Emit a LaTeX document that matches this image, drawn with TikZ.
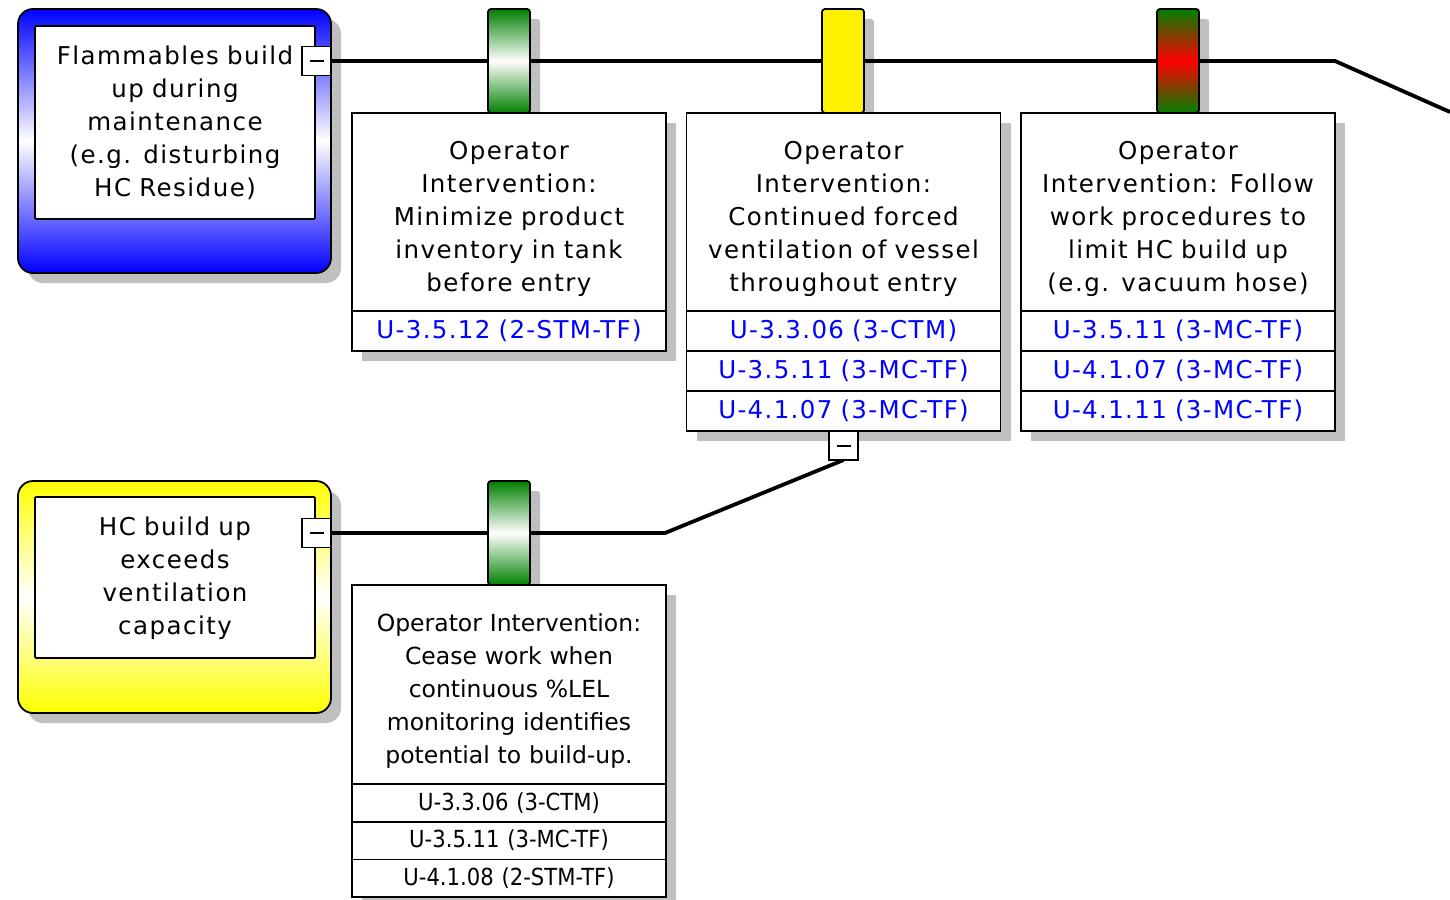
\documentclass[tikz,border=0pt]{standalone}
\usepackage{fontspec}
\setmainfont{DejaVu Sans}
\newfontfamily\widefont[LetterSpace=6]{DejaVu Sans}
\newfontfamily\rowfont[LetterSpace=5.5]{DejaVu Sans}
\newfontfamily\plainfont{DejaVu Sans}
\newfontfamily\smallrowfont[FakeStretch=0.9]{DejaVu Sans}
\usetikzlibrary{shadows,backgrounds}
\definecolor{bgreen}{RGB}{0,128,0}
\definecolor{shgray}{RGB}{192,192,192}
\begin{document}
\begin{tikzpicture}[x=1pt,y=-1pt,
  softshadow/.style={drop shadow={shadow xshift=10pt,shadow yshift=-10pt,fill=black,opacity=0.25}},
  hardshadow/.style={drop shadow={shadow xshift=10pt,shadow yshift=-10pt,fill=shgray,opacity=1}},
  threat/.style={draw,line width=1.8pt,rounded corners=15pt,minimum width=313pt,inner sep=0pt,outer sep=0pt,softshadow},
  innerbox/.style={draw,fill=white,line width=1.6pt,rounded corners=1pt,minimum width=280pt,
    inner sep=0pt,outer sep=0pt},
  boxtext/.style={text width=306pt,align=center,inner sep=0pt,font={\widefont\fontsize{24.5}{33}\selectfont}},
  lowtext/.style={boxtext,font={\plainfont\fontsize{23.5}{32.8}\selectfont}},
  minusbox/.style={draw,fill=white,minimum size=29pt,inner sep=0pt,outer sep=0pt,line width=1.6pt},
  minussign/.style={line width=2pt},
  barrier/.style={draw,line width=1.8pt,minimum width=42pt,inner sep=0pt,outer sep=0pt,rounded corners=3pt,softshadow},
  bbox/.style={draw,fill=white,line width=1.8pt,minimum width=314pt,inner sep=0pt,outer sep=0pt,hardshadow},
  bluerow/.style={bbox,minimum height=40pt,text=blue,text width=306pt,align=center,
    font={\rowfont\fontsize{24.5}{26}\selectfont}},
  blackrow/.style={bbox,minimum height=37.7pt,text width=306pt,align=center,
    font={\smallrowfont\fontsize{23.5}{25}\selectfont}},
  conn/.style={line width=3.8pt}
]
\useasboundingbox (0,0) rectangle (1450,899);

% threat 1
\node[threat,minimum height=264pt,top color=blue,bottom color=blue,middle color=white] (t1) at (174.5,141) {};
\node[innerbox,minimum height=193pt] (t1in) at (175,122.5) {};
\node[boxtext,text width=276pt] (t1t) at (175,122.5) {Flammables build\\up during\\maintenance\\(e.g. disturbing\\HC Residue)};
\node[minusbox] (m1) at (316.5,61) {};
\draw[minussign] ([xshift=-7pt]m1.center) -- ([xshift=7pt]m1.center);

% threat 2
\node[threat,minimum height=232pt,top color=yellow,bottom color=yellow,middle color=white] (t2) at (174.5,597) {};
\node[innerbox,minimum height=161pt] (t2in) at (175,577.5) {};
\node[boxtext,text width=276pt] (t2t) at (175,578) {HC build up\\exceeds\\ventilation\\capacity};
\node[minusbox] (m2) at (316.5,533) {};
\draw[minussign] ([xshift=-7pt]m2.center) -- ([xshift=7pt]m2.center);

% barriers top
\node[barrier,minimum height=104pt,top color=bgreen,bottom color=bgreen,middle color=white] (bar1) at (509,61) {};
\node[barrier,minimum height=104pt,fill=yellow] (bar2) at (843,61) {};
\node[barrier,minimum height=104pt,top color=bgreen,bottom color=bgreen,middle color=red] (bar3) at (1178,61) {};

% box 1
\node[bbox,minimum height=198pt] (b1) at (509,212) {};
\node[boxtext] (b1t) at (509,219) {Operator\\Intervention:\\Minimize product\\inventory in tank\\before entry};
\node[bluerow,anchor=north] (b1r1) at (b1.south) {U-3.5.12 (2-STM-TF)};

% box 2
\node[bbox,minimum height=198pt] (b2) at (843.5,212) {};
\node[boxtext] (b2t) at (843.5,219) {Operator\\Intervention:\\Continued forced\\ventilation of vessel\\throughout entry};
\node[bluerow,anchor=north] (b2r1) at (b2.south) {U-3.3.06 (3-CTM)};
\node[bluerow,anchor=north] (b2r2) at (b2r1.south) {U-3.5.11 (3-MC-TF)};
\node[bluerow,anchor=north] (b2r3) at (b2r2.south) {U-4.1.07 (3-MC-TF)};
\node[minusbox] (m3) at (843.5,445.5) {};
\draw[minussign] ([xshift=-7pt]m3.center) -- ([xshift=7pt]m3.center);

% box 3
\node[bbox,minimum height=198pt] (b3) at (1178,212) {};
\node[boxtext] (b3t) at (1178,219) {Operator\\Intervention: Follow\\work procedures to\\limit HC build up\\(e.g. vacuum hose)};
\node[bluerow,anchor=north] (b3r1) at (b3.south) {U-3.5.11 (3-MC-TF)};
\node[bluerow,anchor=north] (b3r2) at (b3r1.south) {U-4.1.07 (3-MC-TF)};
\node[bluerow,anchor=north] (b3r3) at (b3r2.south) {U-4.1.11 (3-MC-TF)};

% lower barrier and box
\node[barrier,minimum height=104pt,top color=bgreen,bottom color=bgreen,middle color=white] (bar4) at (509,533) {};
\node[bbox,minimum height=199pt] (b4) at (509,684.5) {};
\node[lowtext] (b4t) at (509,691) {Operator Intervention:\\Cease work when\\continuous \%LEL\\monitoring identifies\\potential to build-up.};
\node[blackrow,anchor=north] (b4r1) at (b4.south) {U-3.3.06 (3-CTM)};
\node[blackrow,anchor=north] (b4r2) at (b4r1.south) {U-3.5.11 (3-MC-TF)};
\node[blackrow,anchor=north] (b4r3) at (b4r2.south) {U-4.1.08 (2-STM-TF)};

% connectors
\coordinate (turn1) at (1335,61);
\coordinate (end1) at (1450,112);
\coordinate (turn2) at (665,533);
\begin{scope}[on background layer]
\fill[white] (0,0) rectangle (1450,899);
\draw[conn] (m1.east) -- (bar1) -- (bar2) -- (bar3) -- (turn1) -- (end1);
\draw[conn] (m3.south) -- (turn2) -- (bar4) -- (m2.east);
\end{scope}
\end{tikzpicture}
\end{document}
